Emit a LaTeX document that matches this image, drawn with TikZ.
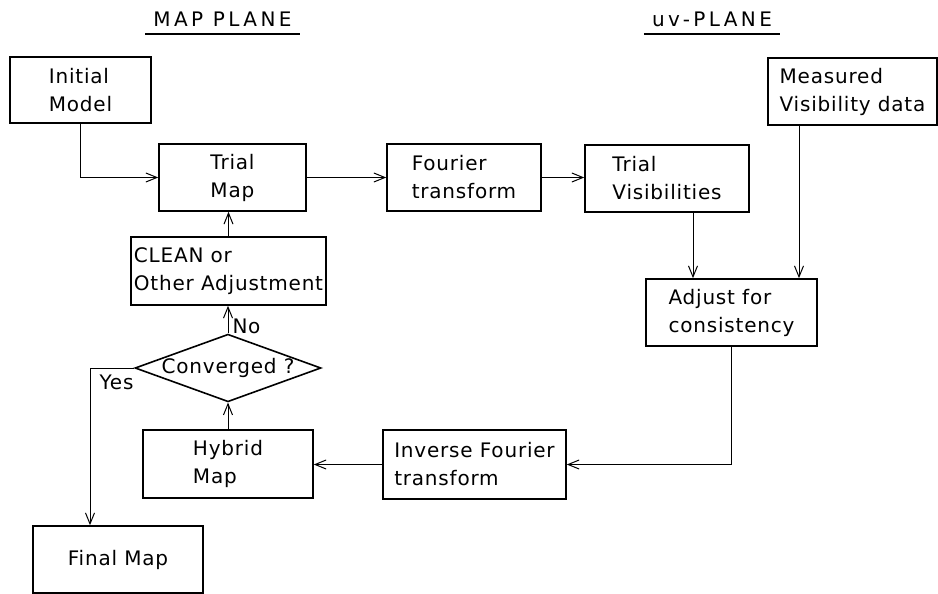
\documentclass[tikz,border=0pt]{standalone}
\usepackage{fontspec}
\setmainfont{DejaVu Sans}[LetterSpace=4]
\usetikzlibrary{arrows.meta, shapes.geometric}

\begin{document}
\begin{tikzpicture}[
    x=1pt, y=-1pt,
    caixa/.style={
        rectangle, draw, line width=1.6pt,
        align=left, font=\fontsize{20}{28}\selectfont,
        inner sep=0pt
    },
    seta/.style={-{Straight Barb[length=11pt,width=9pt,line width=1pt]}, line width=1pt},
    losango/.style={
        diamond, draw, line width=1.6pt, aspect=2.75, inner sep=0pt,
        font=\fontsize{20}{28}\selectfont
    },
    titulo/.style={
        font=\fontsize{20}{28}\selectfont\addfontfeatures{LetterSpace=17},
        inner xsep=8pt, inner ysep=0pt
    },
    rotulo/.style={font=\fontsize{20}{28}\selectfont, inner sep=0pt}
]
\useasboundingbox (0,0) rectangle (938,594);

\node[titulo, anchor=base] (mapt) at (222.5,27) {MAP PLANE};
\node[titulo, anchor=base] (uvt) at (712,27) {uv-PLANE};
\draw[line width=1.2pt] ([yshift=-7pt]mapt.base west) -- ([yshift=-7pt]mapt.base east);
\draw[line width=1.2pt] ([yshift=-7pt]uvt.base west) -- ([yshift=-7pt]uvt.base east);

\node[caixa, minimum width=141pt, minimum height=66pt] (init) at (80.5,90) {Initial\\Model};
\node[caixa, minimum width=147pt, minimum height=67pt] (trial) at (232.5,177.5) {Trial\\Map};
\node[caixa, minimum width=154pt, minimum height=67pt] (fourier) at (464,177.5) {Fourier\\transform};
\node[caixa, minimum width=164pt, minimum height=67pt] (trialvis) at (667,178.5) {Trial\\Visibilities};
\node[caixa, minimum width=169pt, minimum height=67pt] (measured) at (852.5,91.5) {Measured\\Visibility data};
\node[caixa, minimum width=195pt, minimum height=68pt] (clean) at (228.5,271) {CLEAN or\\Other Adjustment};
\node[losango] (conv) at (228,368) {Converged ?};
\node[caixa, minimum width=171pt, minimum height=67pt] (adjust) at (731.5,312.5) {Adjust for\\consistency};
\node[caixa, minimum width=183pt, minimum height=69pt] (inverse) at (474.5,464.5) {Inverse Fourier\\transform};
\node[caixa, minimum width=170pt, minimum height=68pt] (hybrid) at (228,464) {Hybrid\\Map};
\node[caixa, minimum width=170pt, minimum height=67pt] (final) at (118,559.5) {Final Map};

\draw[seta] (init.south) |- (trial.west);
\draw[seta] (trial.east) -- (fourier.west);
\draw[seta] (fourier.east) -- (fourier.east -| trialvis.west);
\draw[seta] ([xshift=-38.5pt]adjust.north |- trialvis.south) -- ([xshift=-38.5pt]adjust.north);
\draw[seta] ([xshift=67.5pt]adjust.north |- measured.south) -- ([xshift=67.5pt]adjust.north);
\draw[seta] (adjust.south) |- (inverse.east);
\draw[seta] (inverse.west) -- (inverse.west -| hybrid.east);
\draw[seta] (hybrid.north) -- (conv.south);
\draw[seta] (conv.north) -- (conv.north |- clean.south) node[rotulo, near start, right=4pt] {No};
\draw[seta] (clean.north) -- (clean.north |- trial.south);
\draw[seta] (conv.west) -| ([xshift=-28pt]final.north) node[rotulo, pos=0.2, below=6pt] {Yes};
\end{tikzpicture}
\end{document}
